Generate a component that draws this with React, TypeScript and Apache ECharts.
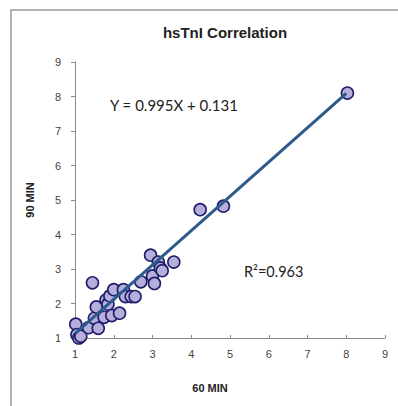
import React, { useEffect, useRef } from "react";
import * as echarts from "echarts";

const x60: number[] = [1.02, 1.05, 1.1, 1.15, 1.35, 1.45, 1.5, 1.55, 1.6, 1.75, 1.8, 1.85, 1.9, 1.95, 2.0, 2.15, 2.25, 2.3, 2.45, 2.55, 2.7, 2.95, 3.0, 3.05, 3.15, 3.2, 3.25, 3.55, 4.23, 4.83, 8.03];
const y90: number[] = [1.4, 1.1, 1.0, 1.05, 1.3, 2.6, 1.57, 1.9, 1.28, 1.6, 2.1, 1.98, 2.22, 1.65, 2.4, 1.72, 2.4, 2.2, 2.2, 2.2, 2.63, 3.4, 2.8, 2.58, 3.2, 3.03, 2.95, 3.2, 4.72, 4.82, 8.1];
const slope = 0.995;
const intercept = 0.131;
const fitRange: number[] = [1, 8];
const axisTicks: number[] = [1, 9];

export default function App() {
  const ref = useRef<HTMLDivElement>(null);
  useEffect(() => {
    if (!ref.current) return;
    const chart = echarts.init(ref.current, undefined, { renderer: "svg" });
    const pts = x60.map((x, i) => [x, y90[i]]);
    const fit = fitRange.map((x) => [x, +(slope * x + intercept).toFixed(4)]);
    const axisCommon = {
      type: "value",
      min: axisTicks[0],
      max: axisTicks[1],
      interval: 1,
      splitLine: { show: false },
      axisLine: { show: true, lineStyle: { color: "#8a8a8a", width: 1 } },
      axisLabel: { color: "#444", fontFamily: "Liberation Sans, Arial", fontSize: 11 },
    };
    const nameStyle = { color: "#222", fontFamily: "Liberation Sans, Arial", fontSize: 11, fontWeight: "bold" };
    chart.setOption({
      animation: false,
      backgroundColor: "#fff",
      title: {
        text: "hsTnI Correlation",
        left: 220,
        top: 20,
        textAlign: "center",
        textStyle: { fontFamily: "Liberation Sans, Arial", fontSize: 15, fontWeight: "bold", color: "#222" },
      },
      grid: { left: 75, right: 13, top: 62, bottom: 68 },
      xAxis: {
        ...axisCommon,
        name: "60 MIN",
        nameLocation: "middle",
        nameGap: 44,
        nameTextStyle: { ...nameStyle, padding: [0, 40, 0, 0] },
        axisTick: { show: true, inside: true, length: 3, lineStyle: { color: "#8a8a8a" } },
        axisLabel: { ...axisCommon.axisLabel, margin: 10 },
      },
      yAxis: {
        ...axisCommon,
        name: "90 MIN",
        nameLocation: "middle",
        nameGap: 40,
        nameRotate: 90,
        nameTextStyle: nameStyle,
        axisTick: { show: true, inside: false, length: 4, lineStyle: { color: "#8a8a8a" } },
        axisLabel: { ...axisCommon.axisLabel, margin: 14 },
      },
      graphic: [
        {
          type: "rect",
          shape: { x: 11, y: 10, width: 400, height: 410 },
          style: { fill: "none", stroke: "#9a9a9a", lineWidth: 1.5 },
          z: -1,
        },
        {
          type: "text",
          x: 110,
          y: 105,
          style: { text: "Y = 0.995X + 0.131", fontFamily: "Lato, Open Sans", fontSize: 15, fill: "#222", verticalAlign: "middle" },
        },
        {
          type: "text",
          x: 244,
          y: 271,
          style: { text: "R²=0.963", fontFamily: "Lato, Open Sans", fontSize: 14.5, fill: "#222", verticalAlign: "middle" },
        },
      ],
      series: [
        {
          type: "scatter",
          data: pts,
          symbolSize: 12,
          itemStyle: { color: "#b7aedb", borderColor: "#1f1f6b", borderWidth: 1.6, opacity: 1 },
          z: 2,
        },
        {
          type: "line",
          data: fit,
          showSymbol: false,
          symbol: "none",
          lineStyle: { color: "#2c5a8a", width: 3 },
          z: 3,
        },
      ],
    });
    return () => chart.dispose();
  }, []);
  return <div ref={ref} style={{ width: 398, height: 406, position: "absolute", left: 0, top: 0 }} />;
}
